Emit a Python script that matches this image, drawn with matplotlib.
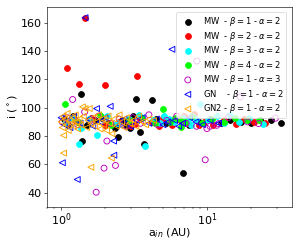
#!/usr/bin/env python
"""
Inclination vs inner semi-major axis for several MW / GN runs.
"""
import matplotlib
matplotlib.use('Agg')
import matplotlib.pyplot as plt

# MW - beta=1 - alpha=2
a_mw_b1 = [1.05, 1.12, 1.2, 1.3, 1.37, 1.39, 1.5, 1.7, 1.9, 2.1, 2.35, 2.46, 2.6,
           2.8, 2.97, 3.1, 3.24, 3.48, 3.71, 4.21, 4.5, 5.2, 6.0, 6.81, 7.5, 8.8,
           10.5, 12.5, 14.5, 17.0, 20.0, 23.0, 27.6, 32.4]
i_mw_b1 = [92, 88, 94, 90, 109.8, 76.3, 88, 91, 93, 89, 85.7, 79.6, 91,
           88, 86, 94, 105.8, 82.9, 74.6, 105.4, 92, 89, 91, 53.8, 88, 90,
           92, 89, 91, 90, 89, 91, 91.1, 89.2]

# MW - beta=2 - alpha=2
a_mw_b2 = [1.09, 1.1, 1.25, 1.32, 1.46, 1.6, 2.0, 2.01, 2.5, 3.0, 3.2, 3.31, 3.5,
           4.2, 4.7, 5.0, 5.4, 5.8, 6.5, 7.0, 7.3, 8.1, 8.8, 9.5, 11.0, 13.0,
           15.7, 18.0, 21.0, 25.0]
i_mw_b2 = [127.7, 89, 91, 116.8, 163.5, 93, 88, 115.7, 90, 87, 88.8, 122.3, 92,
           90, 87, 93, 91, 88, 91, 94, 89, 95.9, 88, 90, 88, 91,
           88.8, 92, 90, 89]

# MW - beta=3 - alpha=2
a_mw_b3 = [1.08, 1.18, 1.32, 1.37, 1.55, 1.76, 2.05, 2.4, 2.9, 3.4, 3.79, 4.3,
           4.8, 5.1, 5.5, 5.9, 6.8, 7.4, 7.8, 8.4, 9.0, 10.2, 11.8, 13.0, 14.4,
           16.5, 19.5, 24.4]
i_mw_b3 = [90, 93, 74.2, 86, 92, 81, 94, 89, 92, 95, 73.3, 91,
           89, 94, 92, 90, 93, 91, 88, 92, 102.5, 91, 94, 89, 94.7,
           90, 93, 88.8]

# MW - beta=4 - alpha=2
a_mw_b4 = [1.065, 1.3, 1.85, 2.2, 2.9, 3.6, 4.4, 4.99, 5.6, 6.0, 6.55, 6.6, 7.1,
           7.9, 9.2, 10.8, 13.0, 15.5, 18.8, 22.6]
i_mw_b4 = [102.7, 90, 94.7, 88, 91, 93, 89, 99.4, 90, 93, 92.3, 86.4, 90,
           94, 89, 92, 90, 93, 91.1, 91.1]

# MW - beta=1 - alpha=3
a_mw_a3 = [1.02, 1.1, 1.2, 1.3, 1.45, 1.6, 1.74, 1.8, 1.97, 2.06, 2.2, 2.36, 2.5,
           2.8, 3.1, 3.5, 4.0, 4.6, 5.3, 6.2, 7.2, 8.5, 8.53, 9.73, 9.99, 10.5,
           11.7, 12.0, 14.0, 16.9, 19.0, 22.6, 29.5]
i_mw_a3 = [90, 93, 105.8, 88, 97, 91, 40.4, 94, 57.4, 76.5, 89, 59.3, 92,
           87, 93, 89, 95, 88, 91, 94, 89, 86.9, 132.9, 63.3, 85.3, 86.9,
           87.6, 88.8, 93, 107.6, 90, 88.8, 92.6]

# GN - beta=1 - alpha=2
a_gn = [1.0, 1.02, 1.05, 1.1, 1.15, 1.22, 1.29, 1.35, 1.46, 1.55, 1.65, 1.75,
        1.85, 2.0, 2.17, 2.29, 2.3, 2.5, 2.7, 3.0, 3.3, 3.6, 4.0, 4.5, 5.0,
        5.4, 5.75, 6.0, 6.4, 6.8, 7.6, 8.4, 9.3, 10.5, 12.0]
i_gn = [93, 61.2, 88, 91, 86, 94, 49.4, 89, 163.5, 92, 87, 99.4,
        90, 93, 101, 76.5, 66.5, 88, 92, 87, 91, 93, 89, 92, 88,
        90, 141.2, 91, 87, 89, 93, 90, 88, 91, 89]

# GN2 - beta=1 - alpha=2
a_gn2 = [1.0, 1.02, 1.03, 1.04, 1.04, 1.06, 1.08, 1.1, 1.12, 1.14, 1.17, 1.2,
         1.22, 1.25, 1.28, 1.3, 1.33, 1.36, 1.4, 1.42, 1.46, 1.5, 1.53, 1.56,
         1.6, 1.6, 1.65, 1.7, 1.75, 1.8, 1.85, 1.9, 1.95, 2.0, 2.05, 2.1,
         2.15, 2.21, 2.23, 2.3, 2.4, 2.5, 2.6, 2.7, 2.8, 2.95, 3.1, 3.25,
         3.4, 3.6, 3.8, 4.0, 4.3]
i_gn2 = [90, 86, 94, 80.5, 68, 92, 88, 96, 84, 91, 89, 93,
         87, 95, 90, 85, 92, 88, 100.6, 94, 99.4, 86, 91, 99.4,
         58, 89, 93, 87, 90, 95, 85, 92, 88, 91, 84, 94,
         89, 64.5, 81.7, 92, 87, 95, 90, 86, 93, 89, 91, 87,
         94, 90, 88, 92, 91]

series = [
    (a_mw_b1, i_mw_b1, 'MW  - $\\beta = 1$ - $\\alpha = 2$', 'o', 'black', True),
    (a_mw_b2, i_mw_b2, 'MW  - $\\beta = 2$ - $\\alpha = 2$', 'o', 'red', True),
    (a_mw_b3, i_mw_b3, 'MW  - $\\beta = 3$ - $\\alpha = 2$', 'o', 'cyan', True),
    (a_mw_b4, i_mw_b4, 'MW  - $\\beta = 4$ - $\\alpha = 2$', 'o', 'lime', True),
    (a_mw_a3, i_mw_a3, 'MW  - $\\beta = 1$ - $\\alpha = 3$', 'o', 'm', False),
    (a_gn, i_gn, 'GN    - $\\beta = 1$ - $\\alpha = 2$', '<', 'blue', False),
    (a_gn2, i_gn2, 'GN2 - $\\beta = 1$ - $\\alpha = 2$', '<', 'orange', False),
]

dpi = 55
fig = plt.figure(figsize=(299 / dpi, 243 / dpi), dpi=dpi)
ax = fig.add_axes([0.157, 0.150, 0.818, 0.821])

for a, inc, label, marker, color, filled in series:
    if filled:
        ax.scatter(a, inc, s=60, marker=marker, color=color, label=label)
    else:
        ax.scatter(a, inc, s=60, marker=marker, facecolors='none',
                   edgecolors=color, linewidths=1.2, label=label)

ax.set_xscale('log')
ax.set_xlim(0.8, 38)
ax.set_ylim(30.3, 171)
ax.set_yticks([40, 60, 80, 100, 120, 140, 160])
ax.tick_params(labelsize=14.5)
ax.set_xlabel('a$_{in}$ (AU)', fontsize=14.5, labelpad=-3)
ax.set_ylabel('i ($^\\circ$)', fontsize=14.5, labelpad=0)
ax.legend(loc='upper right', fontsize=11, labelspacing=0.18,
          borderaxespad=0.6, borderpad=0.35)

fig.savefig('out.png', dpi=dpi)
